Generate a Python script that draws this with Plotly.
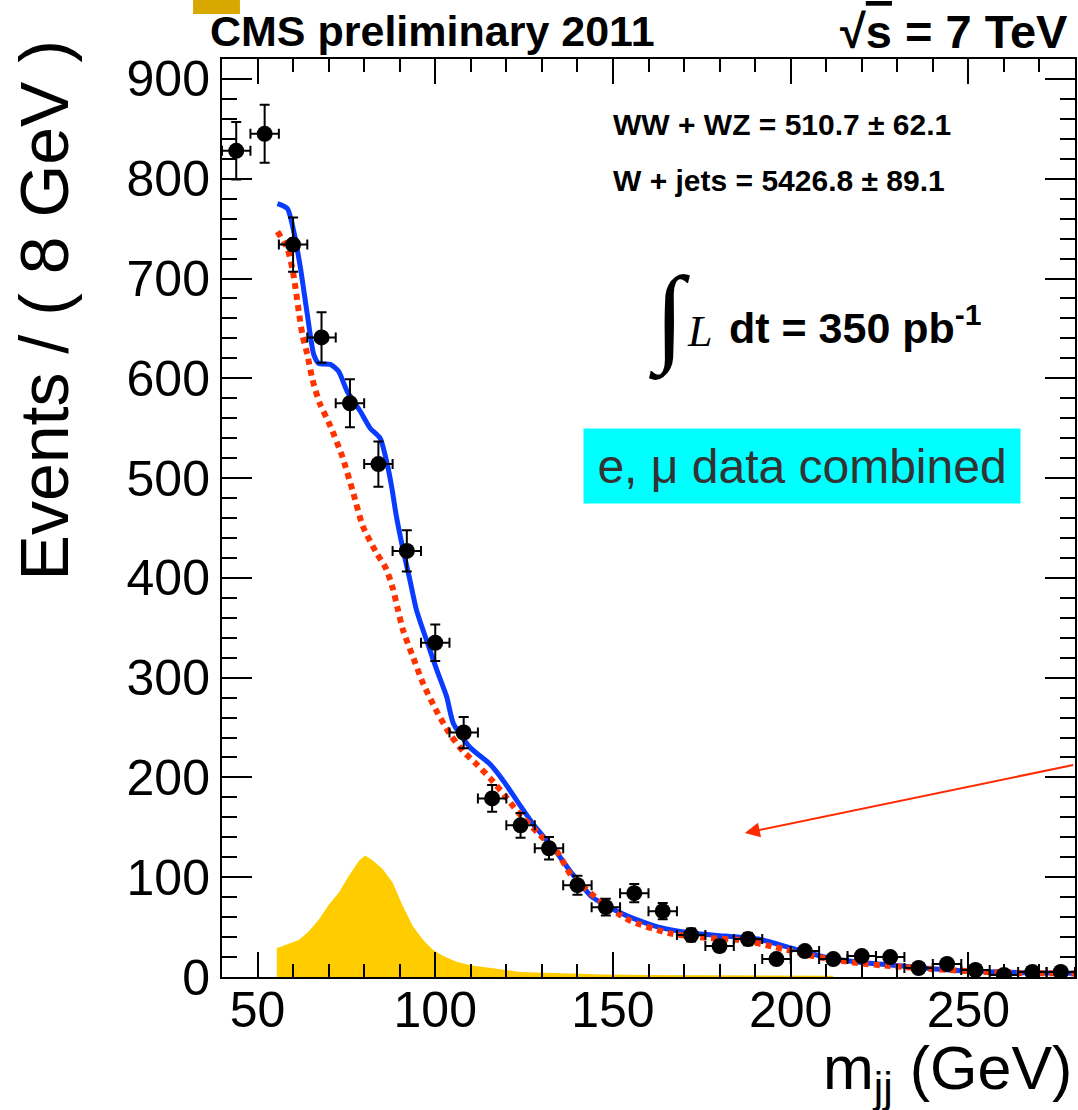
import numpy as np
import plotly.graph_objects as go

# ---- data: m_jj spectrum, 8 GeV bins ----
bin_centers = [44, 52, 60, 68, 76, 84, 92, 100, 108, 116, 124, 132, 140, 148, 156,
               164, 172, 180, 188, 196, 204, 212, 220, 228, 236, 244, 252, 260, 268, 276]
events = [828, 845, 734, 641, 575, 514, 427, 335, 245, 179, 152, 129, 92, 70, 84,
          66, 42, 31, 38, 18, 26, 18, 21, 20, 9, 13, 7, 2, 5, 5]
bin_half_width = 4.0

# total fit (WW+WZ + W+jets)
total_x = [55.6, 58.4, 60.2, 62.1, 64.0, 65.8, 67.2, 70.5, 72.8, 75.2, 78.9, 81.7, 84.5,
           86.3, 87.8, 89.0, 90.9, 92.8, 94.7, 97.5, 100.4, 103.2, 105.1, 109.8, 115.5,
           119.3, 123.1, 127.8, 133.5, 138.2, 144.2, 153.5, 162.9, 172.2, 181.5, 190.9,
           200.2, 209.5, 218.8, 228.1, 237.5, 246.8, 256.1, 265.5, 280.0]
total_y = [775, 770, 747, 710, 664, 624, 615, 614, 607, 587, 567, 550, 540,
           517, 490, 463, 429, 399, 368, 338, 308, 281, 254, 230, 213,
           196, 176, 152, 128, 105, 80, 62, 50, 44, 41, 38,
           29, 20, 15, 12, 9, 6.5, 5.3, 4.3, 3.7]

# W + jets component
wjets_x = [55.6, 58.4, 59.8, 60.7, 61.6, 62.6, 64.0, 65.5, 67.5, 70.5, 73.8, 76.7, 79.6,
           83.3, 86.2, 88.1, 89.5, 90.9, 93.7, 96.6, 100.3, 104.2, 107.9, 111.7, 115.5,
           119.3, 123.1, 128.7, 134.4, 138.2, 145.8, 154.5, 165.7, 176.9, 186.2, 195.5,
           207.7, 218.8, 228.0, 240.0, 255.0, 265.0, 280.0]
wjets_y = [747, 730, 710, 690, 667, 644, 624, 598, 575, 552, 522, 488, 452,
           426, 409, 389, 368, 348, 321, 294, 267, 243, 226, 213, 199,
           183, 166, 145, 125, 102, 78, 57, 44, 39, 37, 30,
           20, 14, 11, 8, 5, 4, 3.5]

# WW + WZ component
diboson_x = [55.4, 57.8, 61.6, 64.4, 67.2, 70.1, 72.9, 75.7, 78.6, 80.3, 82.4, 85.2, 88.0,
             90.9, 93.7, 96.6, 99.4, 102.3, 106.0, 109.8, 116.4, 124.0, 138.2, 147.7,
             160.0, 185.0, 212.0]
diboson_y = [28.8, 32, 37, 45.7, 57.5, 72.7, 84.6, 101.5, 116.7, 121.7, 116.7, 108.2, 94.7,
             71, 50.8, 37.2, 27, 21, 15.3, 11.9, 8.5, 5.1, 3.4, 2.4,
             2.0, 1.5, 1.2]

x_ticks = [50, 100, 150, 200, 250]
y_ticks = [0, 100, 200, 300, 400, 500, 600, 700, 800, 900]

# ---- page geometry (pixels) ----
W, H = 1078, 1110
L, R, T, B = 222, 1077, 59, 977

def px(x):
    return (x - L) / (R - L)

def py(y):
    return (B - y) / (B - T)

SANS = "Liberation Sans, Arial, sans-serif"
SERIF = "Liberation Serif, Times New Roman, serif"

fig = go.Figure()

fig.add_trace(go.Scatter(
    x=[diboson_x[0]] + diboson_x, y=[0] + diboson_y,
    mode="lines", line=dict(color="#ffcc00", width=0),
    fill="tozeroy", fillcolor="#ffcc00", hoverinfo="skip", showlegend=False))

fig.add_trace(go.Scatter(
    x=total_x, y=total_y, mode="lines",
    line=dict(color="#0a3cff", width=5, shape="spline", smoothing=0.6),
    showlegend=False))

fig.add_trace(go.Scatter(
    x=wjets_x, y=wjets_y, mode="lines",
    line=dict(color="#ff3300", width=6, dash="6px,5px", shape="spline", smoothing=0.6),
    showlegend=False))

errs = np.sqrt(np.array(events, dtype=float))
fig.add_trace(go.Scatter(
    x=bin_centers, y=events, mode="markers",
    marker=dict(color="black", size=16, symbol="circle"),
    error_y=dict(type="data", array=errs, color="black", thickness=2, width=5),
    error_x=dict(type="constant", value=bin_half_width, color="black", thickness=2, width=5),
    showlegend=False))

axis_common = dict(
    showline=True, linecolor="black", linewidth=2, mirror="allticks",
    ticks="inside", tickcolor="black", tickwidth=2,
    showgrid=False, zeroline=False,
    tickfont=dict(family=SANS, size=50, color="black"),
)

fig.update_xaxes(
    range=[40, 280], tickmode="array", tickvals=x_ticks,
    ticktext=[str(v) for v in x_ticks], ticklen=25, ticklabelstandoff=-12,
    minor=dict(dtick=10, tick0=40, ticklen=13, tickwidth=2, tickcolor="black", ticks="inside"),
    **axis_common)
fig.update_yaxes(
    range=[0, 920], tickmode="array", tickvals=y_ticks,
    ticktext=[str(v) for v in y_ticks], ticklen=30, ticklabelstandoff=0,
    minor=dict(dtick=20, tick0=0, ticklen=15, tickwidth=2, tickcolor="black", ticks="inside"),
    **axis_common)

annotations = [
    dict(text="<b>CMS preliminary 2011</b>", x=px(208), y=py(31), xanchor="left", yanchor="middle",
         font=dict(family=SANS, size=43, color="black")),
    dict(text="<b>√<span style='text-decoration:overline'>s</span> = 7 TeV</b>", x=px(1072), y=py(31),
         xanchor="right", yanchor="middle", font=dict(family=SANS, size=47, color="black")),
    dict(text="<b>WW + WZ = 510.7 ± 62.1</b>", x=px(612), y=py(124), xanchor="left", yanchor="middle",
         font=dict(family=SANS, size=30, color="black")),
    dict(text="<b>W + jets = 5426.8 ± 89.1</b>", x=px(612), y=py(180), xanchor="left", yanchor="middle",
         font=dict(family=SANS, size=30, color="black")),
    dict(text="∫", x=px(648), y=py(318), xanchor="left", yanchor="middle",
         font=dict(family=SERIF, size=108, color="black")),
    dict(text="<i>L</i>", x=px(686), y=py(331), xanchor="left", yanchor="middle",
         font=dict(family=SERIF, size=44, color="black")),
    dict(text="<b>dt = 350 pb<sup>-1</sup></b>", x=px(728), y=py(325), xanchor="left", yanchor="middle",
         font=dict(family=SANS, size=43, color="black")),
    dict(text="e, μ data combined", x=px(803), y=py(466), xanchor="center", yanchor="middle",
         font=dict(family=SANS, size=48, color="#333333"), bgcolor="#00ffff",
         borderpad=0, width=436, height=74),
    dict(text="m<sub>jj</sub> (GeV)", x=px(1076), y=py(1072), xanchor="right", yanchor="middle",
         font=dict(family=SANS, size=61, color="black")),
    dict(text="Events / ( 8 GeV )", x=px(44), y=py(38), xanchor="center", yanchor="top",
         textangle=-90, font=dict(family=SANS, size=68, color="black")),
]
for a in annotations:
    a.setdefault("showarrow", False)
    a["xref"] = "paper"
    a["yref"] = "paper"

# red arrow in the lower right of the frame
annotations.append(dict(
    x=187.1, y=144.3, ax=279.9, ay=212.7, xref="x", yref="y", axref="x", ayref="y",
    text="", showarrow=True, arrowhead=2, arrowsize=1.5, arrowwidth=2, arrowcolor="#ff2a00"))

fig.update_layout(
    width=W, height=H,
    margin=dict(l=L, r=W - R, t=T, b=H - B, pad=0),
    paper_bgcolor="white", plot_bgcolor="white",
    annotations=annotations,
    shapes=[dict(type="rect", xref="paper", yref="paper",
                 x0=px(193), x1=px(240), y0=py(0), y1=py(14),
                 fillcolor="#d9a800", line=dict(width=0))],
)

fig.write_html("out.html")
